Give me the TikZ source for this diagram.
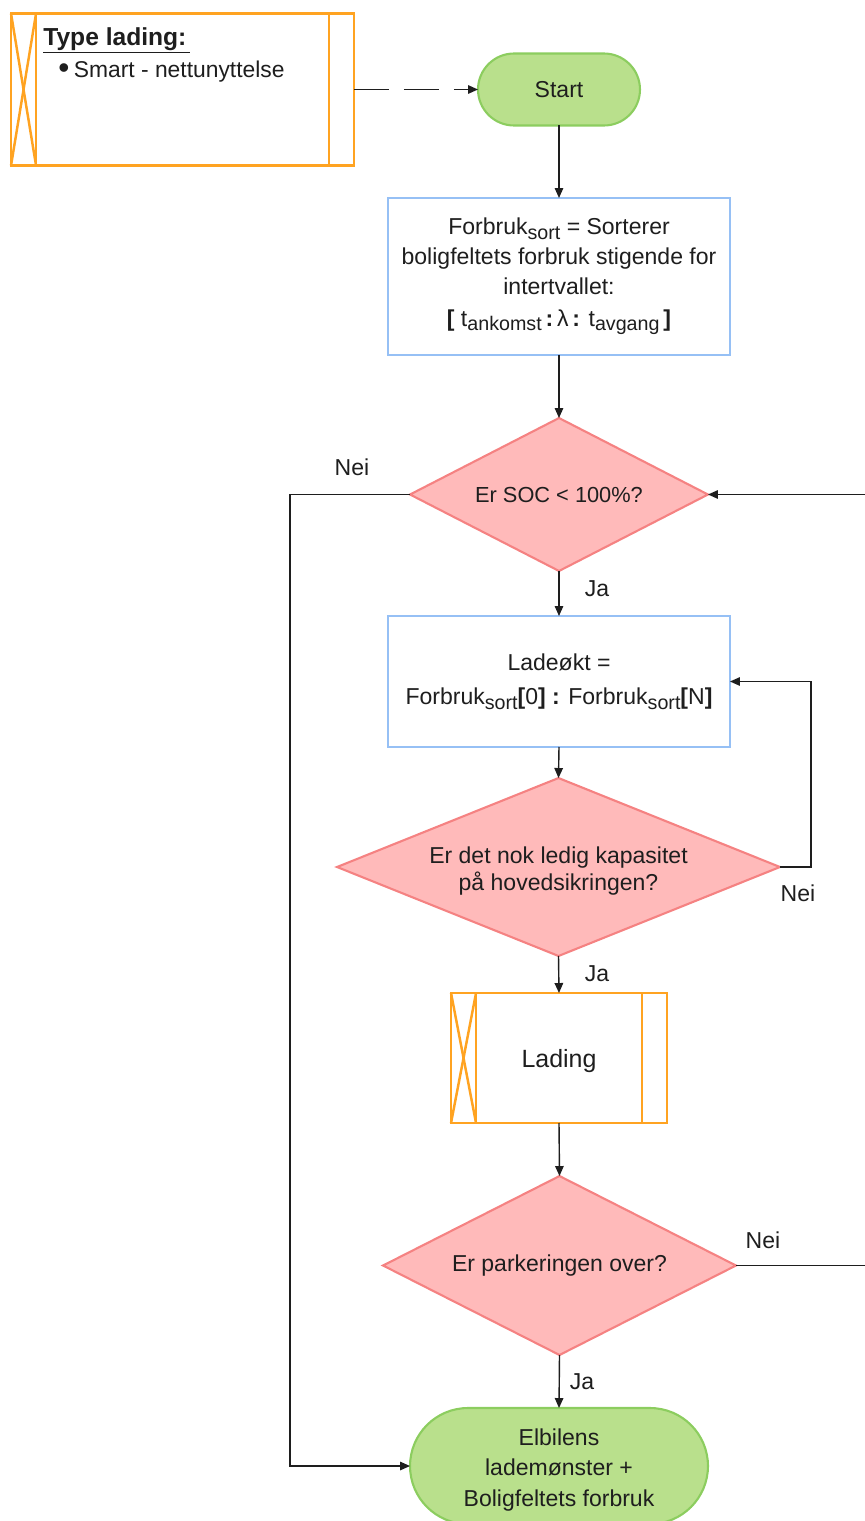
\documentclass[tikz,border=0pt]{standalone}
\usepackage{fontspec}
\setmainfont{Liberation Sans}
\usetikzlibrary{arrows.meta,calc,shapes.geometric}

\definecolor{orng}{RGB}{255,163,33}
\definecolor{grfill}{RGB}{185,224,140}
\definecolor{grline}{RGB}{140,205,95}
\definecolor{blline}{RGB}{150,192,245}
\definecolor{pkfill}{RGB}{255,186,186}
\definecolor{pkline}{RGB}{245,130,130}
\definecolor{ink}{RGB}{30,30,30}

% lowered, slightly smaller index text
\newcommand\sbs[1]{\raisebox{-2.8pt}{\fontsize{11.2pt}{11.2pt}\selectfont #1}}
% taller first line, pushes a centred text block down a little
\newcommand\toppad{\rule{0pt}{14pt}}

\begin{document}
\begin{tikzpicture}[x=0.02cm,y=-0.02cm,
  txt/.style={text=ink,font=\fontsize{13.1pt}{17pt}\selectfont,align=center},
  procbox/.style={txt,draw=blline,line width=1.2pt,fill=white,
    minimum width=6.84cm,inner sep=0pt,outer sep=0pt},
  decision/.style={txt,diamond,draw=pkline,fill=pkfill,line width=1.2pt,
    inner sep=0pt,outer sep=0pt},
  terminal/.style={txt,draw=grline,fill=grfill,line width=1.2pt,
    inner sep=0pt,outer sep=0pt},
  subproc/.style={draw=orng,line width=1.4pt,fill=white,inner sep=0pt,outer sep=0pt},
  subline/.style={draw=orng,line width=1.4pt},
  flow/.style={draw=ink,line width=0.8pt,-{Triangle[length=0.2cm,width=0.17cm]}},
  lbl/.style={txt}
]
\useasboundingbox (0,0) rectangle (865,1521);

% legend box: charging type
\node[subproc,minimum width=6.86cm,minimum height=3.04cm] (typebox) at (182.5,89.5) {};
\draw[subline] ($(typebox.north west)+(25,0)$) -- ($(typebox.south west)+(25,0)$);
\draw[subline] ($(typebox.north east)+(-25,0)$) -- ($(typebox.south east)+(-25,0)$);
\draw[subline] (typebox.north west) -- ($(typebox.south west)+(25,0)$);
\draw[subline] ($(typebox.north west)+(25,0)$) -- (typebox.south west);
\node[anchor=base west,text=ink,font=\fontsize{14pt}{16pt}\selectfont\bfseries,inner sep=0pt]
  (typehead) at (43,45) {\underline{Type lading:\,}};
\node[anchor=base west,text=ink,font=\fontsize{13pt}{16pt}\selectfont,inner sep=0pt]
  (typeitem) at (58,77)
  {\raisebox{-0.6pt}{\fontsize{18pt}{18pt}\selectfont\textbullet}\hspace{2.5pt}Smart - nettunyttelse};

% main flow
\node[terminal,minimum width=3.24cm,minimum height=1.44cm,rounded corners=0.72cm]
  (start) at (559,89.5) {Start};

\node[procbox,minimum height=3.14cm] (sort) at (559,276.5)
  {Forbruk\sbs{sort} = Sorterer\\
   boligfeltets forbruk stigende for\\
   intertvallet:\\[1pt]
   \textbf{[} t\sbs{ankomst}\,\textbf{:}\,λ\,\textbf{:} t\sbs{avgang}\,\textbf{]}};

\node[decision,shape aspect=1.95,minimum width=5.96cm,minimum height=3.06cm,
  font=\fontsize{12.4pt}{15pt}\selectfont] (soc) at (559,494.5) {Er SOC < 100\%?};

\node[procbox,minimum height=2.62cm] (okt) at (559,681.5)
  {Ladeøkt =\\[2.5pt]
   Forbruk\sbs{sort}\textbf{[}0\textbf{]} \textbf{:} Forbruk\sbs{sort}\textbf{[}N\textbf{]}};

\node[decision,shape aspect=2.49,minimum width=8.86cm,minimum height=3.56cm,
  font=\fontsize{13.1pt}{15.3pt}\selectfont] (kap) at (558.5,867)
  {\toppad Er det nok ledig kapasitet\\på hovedsikringen?};

\node[subproc,minimum width=4.32cm,minimum height=2.6cm,text=ink,
  font=\fontsize{14.2pt}{17pt}\selectfont] (lading) at (559,1058) {\rule{0pt}{13.5pt}Lading};
\draw[subline] ($(lading.north west)+(25,0)$) -- ($(lading.south west)+(25,0)$);
\draw[subline] ($(lading.north east)+(-25,0)$) -- ($(lading.south east)+(-25,0)$);
\draw[subline] (lading.north west) -- ($(lading.south west)+(25,0)$);
\draw[subline] ($(lading.north west)+(25,0)$) -- (lading.south west);

\node[decision,shape aspect=1.97,minimum width=7.06cm,minimum height=3.58cm] (park)
  at (559.5,1265.5) {Er parkeringen over?};

\node[terminal,minimum width=5.96cm,minimum height=2.32cm,rounded corners=1.16cm,
  font=\fontsize{13.1pt}{17.4pt}\selectfont] (slutt) at (559,1466)
  {\toppad Elbilens\\lademønster +\\Boligfeltets forbruk};

% connectors
\draw[flow,dash pattern=on 0.7cm off 0.3cm] (typebox.east) -- (start.west);
\draw[flow] (start.south) -- (sort.north);
\draw[flow] (sort.south) -- (soc.north);
\draw[flow] (soc.south) -- (okt.north);
\draw[flow] (okt.south) -- (kap.north);
\draw[flow] (kap.south) -- (lading.north);
\draw[flow] (lading.south) -- (park.north);
\draw[flow] (park.south) -- (slutt.north);

\coordinate (lcorner) at (290,494.5);
\draw[flow] (soc.west) -- (lcorner) |- (slutt.west);

\coordinate (kcorner) at (811,867);
\draw[flow] (kap.east) -- (kcorner) |- (okt.east);

\coordinate (rlow) at (872,1265.5);
\coordinate (rhigh) at (872,494.5);
\draw[flow] (park.east) -- (rlow) -- (rhigh) -- (soc.east);

% branch labels
\node[lbl] (neisoc) at (352,467) {Nei};
\node[lbl] (jasoc) at (597,589) {Ja};
\node[lbl] (neikap) at (798,893) {Nei};
\node[lbl] (jakap) at (597,974) {Ja};
\node[lbl] (neipark) at (763,1240) {Nei};
\node[lbl] (japark) at (582,1382) {Ja};
\end{tikzpicture}
\end{document}
